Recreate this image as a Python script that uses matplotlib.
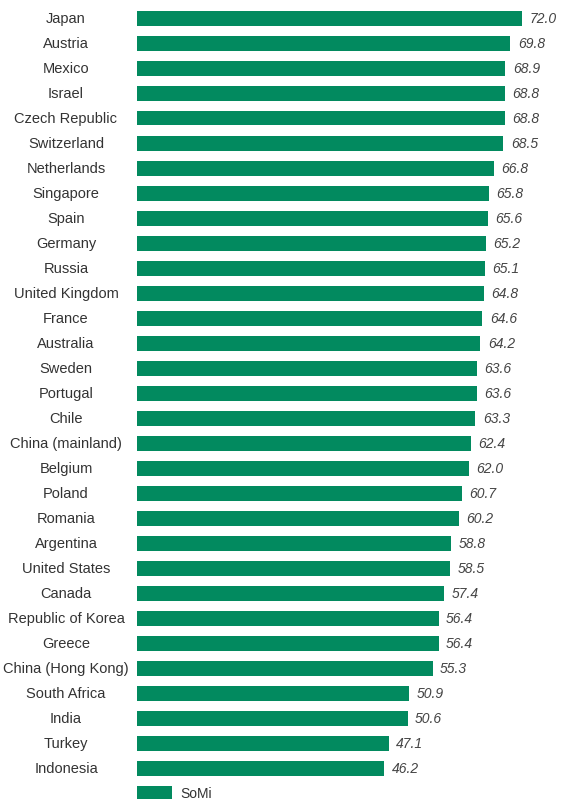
import matplotlib
matplotlib.use("Agg")
import matplotlib.pyplot as plt
import matplotlib.transforms as mtransforms

plt.rcParams["font.family"] = ["Liberation Sans", "DejaVu Sans"]

countries = [
    "Japan", "Austria", "Mexico", "Israel", "Czech Republic", "Switzerland",
    "Netherlands", "Singapore", "Spain", "Germany", "Russia", "United Kingdom",
    "France", "Australia", "Sweden", "Portugal", "Chile", "China (mainland)",
    "Belgium", "Poland", "Romania", "Argentina", "United States", "Canada",
    "Republic of Korea", "Greece", "China (Hong Kong)", "South Africa", "India",
    "Turkey", "Indonesia",
]
somi = [
    72.0, 69.8, 68.9, 68.8, 68.8, 68.5,
    66.8, 65.8, 65.6, 65.2, 65.1, 64.8,
    64.6, 64.2, 63.6, 63.6, 63.3, 62.4,
    62.0, 60.7, 60.2, 58.8, 58.5, 57.4,
    56.4, 56.4, 55.3, 50.9, 50.6,
    47.1, 46.2,
]
series_name = "SoMi"

GREEN = "#028a5f"
W, H = 564, 803

fig = plt.figure(figsize=(W / 100, H / 100), dpi=100)
ax = fig.add_axes([137 / W, 0, 1 - 137 / W, 1])

pos = list(range(len(countries)))
ax.barh(pos, somi, height=0.6, color=GREEN, label=series_name)

# row centres at 19 + 25*i px from the top
ax.set_ylim((H - 19) / 25, -19 / 25)
ax.set_xlim(0, (W - 137) / ((522 - 137) / 72.0))
ax.axis("off")

for i, v in enumerate(somi):
    ax.text(v + 1.4, i, f"{v:.1f}", va="center", ha="left",
            fontsize=10, style="italic", color="#444444")

trans = mtransforms.blended_transform_factory(fig.transFigure, ax.transData)
for i, name in enumerate(countries):
    ax.text(66 / W, i, name, transform=trans, ha="center", va="center",
            fontsize=10.5, color="#333333")

leg_y = 1 - (19 + 25 * len(countries)) / H
ax.legend(loc="center left", bbox_to_anchor=(137 / W, leg_y),
          bbox_transform=fig.transFigure, frameon=False, fontsize=10,
          borderpad=0, borderaxespad=0, handlelength=2.5,
          handleheight=1.1, handletextpad=0.6, labelcolor="#333333")

fig.savefig("out.png", dpi=100)
